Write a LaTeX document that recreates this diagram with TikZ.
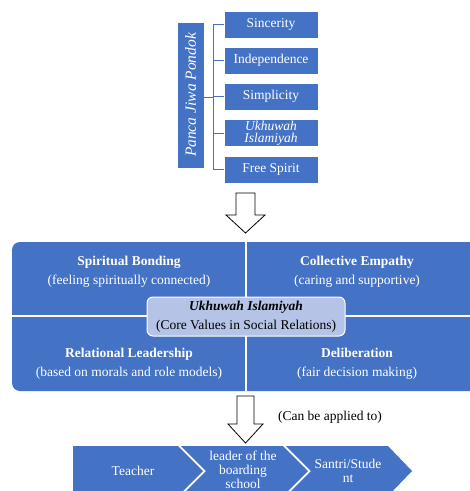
\documentclass[tikz,border=0pt]{standalone}
\usepackage{fontspec}
\setmainfont{Liberation Serif}
\usepackage{tikz}
\usetikzlibrary{positioning,calc}
\definecolor{panelblue}{HTML}{4472C4}
\definecolor{coreblue}{HTML}{B4C3E6}
\tikzset{
  valbox/.style={fill=panelblue,draw=white,line width=0.6pt,text=white,minimum width=94pt,minimum height=27pt,inner sep=1pt,font=\fontsize{13.5}{12}\selectfont,align=center},
  quad/.style={text=white,align=center,font=\fontsize{13.5}{19}\selectfont},
  blockarrow/.style={draw=black,fill=white,line width=0.8pt},
  chev/.style={fill=panelblue,draw=none},
  chevtext/.style={text=white,align=center,font=\fontsize{13.5}{14}\selectfont}
}
\begin{document}
\begin{tikzpicture}[x=1pt,y=-1pt]
\clip (0,0) rectangle (470,491);
\fill[white] (0,0) rectangle (470,491);
\node[fill=panelblue,draw=white,line width=0.6pt,text=white,rotate=90,minimum width=146pt,minimum height=27pt,inner sep=0pt,font=\fontsize{15.5}{16}\selectfont\itshape] (pjp) at (190.5,95) {Panca Jiwa Pondok};
\node[valbox] (s1) at (271,24.5) {Sincerity};
\node[valbox] (s2) at (271,60.5) {Independence};
\node[valbox] (s3) at (271,96.5) {Simplicity};
\node[valbox,font=\fontsize{13.5}{12}\selectfont\itshape] (s4) at (271,133) {Ukhuwah\\Islamiyah};
\node[valbox] (s5) at (271,169.5) {Free Spirit};
\coordinate (fork) at ($(pjp.south)+(9,2)$);
\draw[panelblue,line width=1pt] (pjp.south |- fork) -- (fork);
\foreach \i in {1,...,5}
  \draw[panelblue,line width=1pt] (fork) |- (s\i.west);
\draw[blockarrow] (236,193) -- (255,193) -- (255,215) -- (265,215) -- (245.5,233) -- (226,215) -- (236,215) -- cycle;
\fill[panelblue,rounded corners=8pt] (12,242) rectangle (490,391);
\draw[white,line width=1.2pt] (246,242) -- (246,391);
\draw[white,line width=1.2pt] (12,316) -- (490,316);
\node[quad] (sb) at (129,272) {\textbf{Spiritual Bonding}\\(feeling spiritually connected)};
\node[quad] (ce) at (357,272) {\textbf{Collective Empathy}\\(caring and supportive)};
\node[quad] (rl) at (129,364) {\textbf{Relational Leadership}\\(based on morals and role models)};
\node[quad] (de) at (357,364) {\textbf{Deliberation}\\(fair decision making)};
\node[fill=coreblue,draw=white,line width=1pt,rounded corners=6pt,minimum width=198pt,minimum height=39pt,align=center,inner sep=1pt,font=\fontsize{13.5}{19}\selectfont] (core) at (246,316.5) {\textbf{\textit{Ukhuwah Islamiyah}}\\(Core Values in Social Relations)};
\draw[blockarrow] (237,396) -- (254,396) -- (254,424) -- (263,424) -- (245.5,443) -- (228,424) -- (237,424) -- cycle;
\node[font=\fontsize{13.5}{12}\selectfont] (apply) at (330,417) {(Can be applied to)};
\fill[chev] (73,446) -- (178,446) -- (203,471) -- (178,496) -- (73,496) -- cycle;
\fill[chev] (181,446) -- (283,446) -- (308,471) -- (283,496) -- (181,496) -- (206,471) -- cycle;
\fill[chev] (286,446) -- (388,446) -- (412,471) -- (388,496) -- (286,496) -- (311,471) -- cycle;
\node[chevtext] (teacher) at (133,471) {Teacher};
\node[chevtext] (leader) at (243,469.5) {leader of the\\boarding\\school};
\node[chevtext] (santri) at (348,471) {Santri/Stude\\nt};
\end{tikzpicture}
\end{document}
